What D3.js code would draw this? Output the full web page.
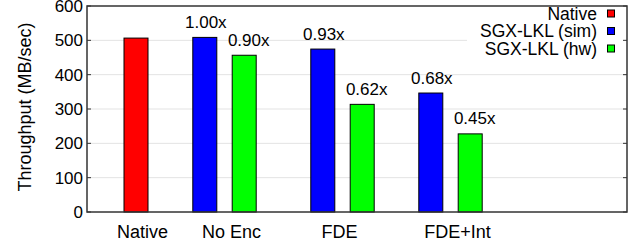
<!DOCTYPE html>
<html>
<head>
<meta charset="UTF-8">
<script src="https://cdn.jsdelivr.net/npm/d3@7"></script>
<style>
  body { margin: 0; background: #fff; }
  text { font-family: "Liberation Sans", Arial, sans-serif; fill: #000; }
</style>
</head>
<body>
<div id="container"></div>
<script>
  // data
  const categories = ["Native", "No Enc", "FDE", "FDE+Int"];
  const seriesNames = ["Native", "SGX-LKL (sim)", "SGX-LKL (hw)"];
  const nativeValues = [508, null, null, null];
  const simValues = [null, 510, 476, 348];
  const hwValues = [null, 458, 315, 229];
  const simLabels = [null, "1.00x", "0.93x", "0.68x"];
  const hwLabels = [null, "0.90x", "0.62x", "0.45x"];
  const yTicks = [0, 100, 200, 300, 400, 500, 600];

  const colors = ["#ff0000", "#0000ff", "#00ff00"];

  const width = 639, height = 252;
  const marginLeft = 87, marginRight = 12, marginTop = 6, marginBottom = 40;

  const svg = d3.select("#container").append("svg")
    .attr("width", width)
    .attr("height", height);

  const y = d3.scaleLinear()
    .domain([0, 600])
    .range([height - marginBottom, marginTop]);

  // group centres (not evenly spaced in the original)
  const groupX = d3.scaleOrdinal().domain(categories).range([136, 224.5, 342.5, 450.5]);
  const labelX = d3.scaleOrdinal().domain(categories).range([142, 231, 339, 457]);
  const offset = d3.scaleOrdinal().domain(seriesNames).range([0, -19.7, 19.7]);
  const barW = 25;

  const right = width - marginRight;
  const bottom = height - marginBottom;

  // grid
  svg.append("g")
    .selectAll("line")
    .data(yTicks.filter(d => d > 0 && d < 600))
    .join("line")
    .attr("x1", marginLeft).attr("x2", right)
    .attr("y1", d => y(d)).attr("y2", d => y(d))
    .attr("stroke", "#e3e3e3").attr("stroke-width", 1);

  // bars
  const rows = [];
  [nativeValues, simValues, hwValues].forEach((vals, si) => {
    vals.forEach((v, ci) => {
      if (v != null) rows.push({ cat: categories[ci], s: si, v: v });
    });
  });

  svg.append("g")
    .selectAll("rect")
    .data(rows)
    .join("rect")
    .attr("x", d => groupX(d.cat) + offset(seriesNames[d.s]) - barW / 2 + 0.5)
    .attr("y", d => y(d.v) + 0.5)
    .attr("width", barW - 1)
    .attr("height", d => y(0) - y(d.v) - 0.5)
    .attr("fill", d => colors[d.s])
    .attr("stroke", "#000")
    .attr("stroke-width", 1);

  // value labels
  const lbls = [];
  simLabels.forEach((t, i) => { if (t) lbls.push({ t, cat: categories[i], s: 1, v: simValues[i] }); });
  hwLabels.forEach((t, i) => { if (t) lbls.push({ t, cat: categories[i], s: 2, v: hwValues[i] }); });

  svg.append("g")
    .selectAll("text")
    .data(lbls)
    .join("text")
    .attr("x", d => groupX(d.cat) + offset(seriesNames[d.s]) + (d.s === 2 ? 4.5 : 1))
    .attr("y", d => y(d.v) - 9)
    .attr("text-anchor", "middle")
    .style("font-size", "17px")
    .text(d => d.t);

  // legend (white box hides grid)
  const legend = svg.append("g");
  legend.append("rect")
    .attr("x", 467).attr("y", marginTop + 1)
    .attr("width", right - 468).attr("height", 57)
    .attr("fill", "#fff");
  seriesNames.forEach((name, i) => {
    const cy = 13.5 + i * 17.5;
    legend.append("text")
      .attr("x", 597).attr("y", cy + 6)
      .attr("text-anchor", "end")
      .style("font-size", "17.5px")
      .text(name);
    legend.append("rect")
      .attr("x", 607.5).attr("y", cy - 3.5)
      .attr("width", 7).attr("height", 7)
      .attr("fill", colors[i])
      .attr("stroke", "#000").attr("stroke-width", 1);
  });

  // y axis: labels + inward ticks on both sides
  const yAxis = svg.append("g")
    .attr("transform", `translate(${marginLeft},0)`)
    .call(d3.axisLeft(y).tickValues(yTicks).tickSize(0).tickPadding(4));
  yAxis.select(".domain").remove();
  yAxis.selectAll("text").style("font-size", "17px").attr("font-family", null);

  svg.append("g")
    .selectAll("line")
    .data(yTicks)
    .join("line")
    .attr("x1", marginLeft).attr("x2", marginLeft + 4)
    .attr("y1", d => y(d)).attr("y2", d => y(d))
    .attr("stroke", "#333");
  svg.append("g")
    .selectAll("line")
    .data(yTicks)
    .join("line")
    .attr("x1", right - 4).attr("x2", right)
    .attr("y1", d => y(d)).attr("y2", d => y(d))
    .attr("stroke", "#333");

  // x axis labels
  const xAxis = svg.append("g")
    .attr("transform", `translate(0,${bottom})`)
    .call(d3.axisBottom(labelX).tickSize(0).tickPadding(13));
  xAxis.select(".domain").remove();
  xAxis.selectAll("text").style("font-size", "18px").attr("font-family", null);

  // frame
  svg.append("rect")
    .attr("x", marginLeft).attr("y", marginTop)
    .attr("width", right - marginLeft).attr("height", bottom - marginTop)
    .attr("fill", "none")
    .attr("stroke", "#333").attr("stroke-width", 1.5);

  // y title
  svg.append("text")
    .attr("transform", `translate(31,107) rotate(-90)`)
    .attr("text-anchor", "middle")
    .style("font-size", "18px")
    .text("Throughput (MB/sec)");
</script>
</body>
</html>
